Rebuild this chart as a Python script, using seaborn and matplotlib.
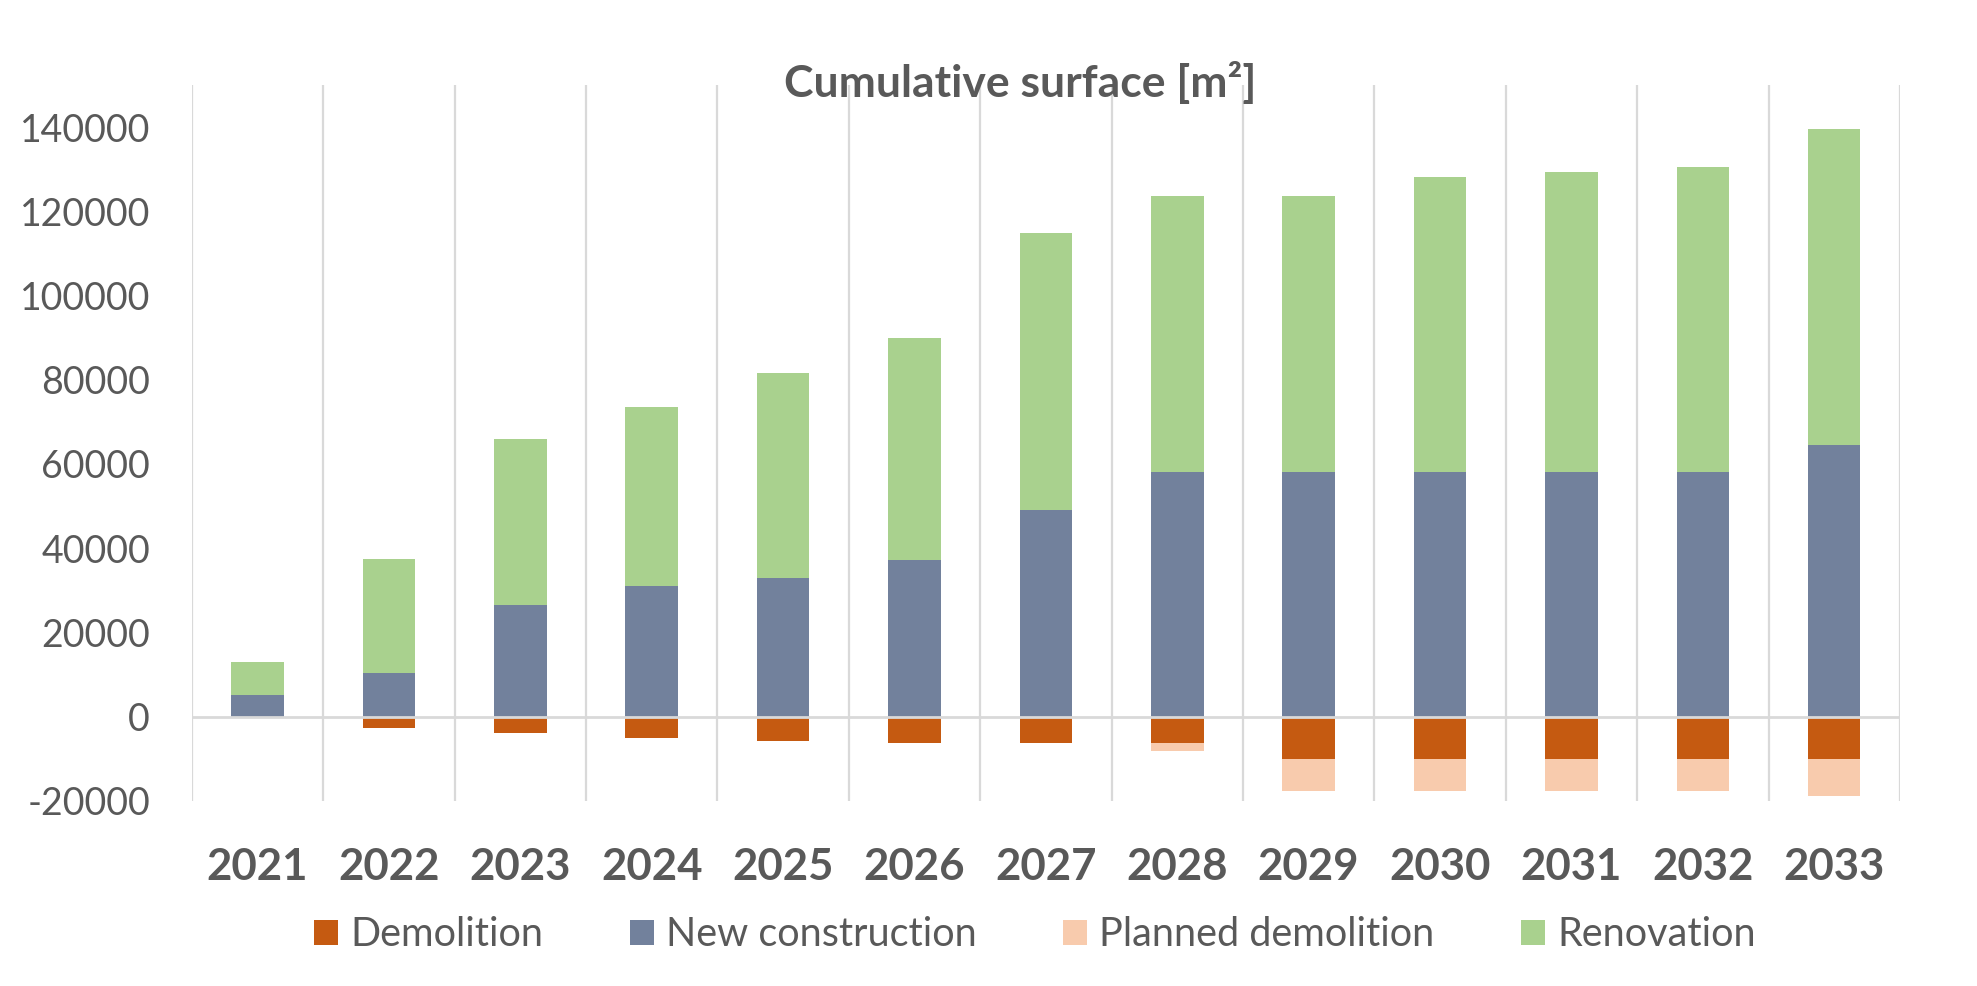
import numpy as np
import pandas as pd
import matplotlib
matplotlib.use("Agg")
import matplotlib.pyplot as plt
import seaborn as sns
from matplotlib.patches import Patch

# Cumulative floor surface per year [m²]
years = ["2021", "2022", "2023", "2024", "2025", "2026", "2027",
         "2028", "2029", "2030", "2031", "2032", "2033"]
new_construction = [5000, 10300, 26600, 31100, 33000, 37200, 49100,
                    58000, 58000, 58000, 58000, 58000, 64500]
renovation = [7900, 27000, 39400, 42400, 48600, 52800, 65700,
              65600, 65600, 70200, 71300, 72500, 75000]
demolition = [0, -2700, -3900, -5100, -5800, -6300, -6300,
              -6300, -10000, -10000, -10000, -10000, -10000]
planned_demolition = [0, 0, 0, 0, 0, 0, 0,
                      -1800, -7700, -7700, -7700, -7700, -8800]

y_ticks = list(range(-20000, 140001, 20000))

colors = {
    "Demolition": "#C55A11",
    "New construction": "#72819C",
    "Planned demolition": "#F8CBAD",
    "Renovation": "#A9D18E",
}
text_color = "#595959"
grid_color = "#D9D9D9"

sns.set_theme(style="white")
plt.rcParams["font.family"] = ["Lato", "DejaVu Sans"]

fig = plt.figure(figsize=(19.77, 9.86), dpi=100)
ax = fig.add_axes([0.097, 0.1879, 0.864, 0.7259])

df = pd.DataFrame({
    "year": years,
    "New construction": new_construction,
    "Renovation": renovation,
    "Demolition": demolition,
    "Planned demolition": planned_demolition,
})

bar_kws = dict(order=years, width=0.4, saturation=1, linewidth=0, ax=ax, zorder=2)

# positive stack: new construction, then renovation on top
sns.barplot(data=df, x="year", y="New construction",
            color=colors["New construction"], **bar_kws)
sns.barplot(data=df, x="year", y="Renovation", bottom=df["New construction"],
            color=colors["Renovation"], **bar_kws)
# negative stack: demolition, then planned demolition below it
sns.barplot(data=df, x="year", y="Demolition",
            color=colors["Demolition"], **bar_kws)
sns.barplot(data=df, x="year", y="Planned demolition", bottom=df["Demolition"],
            color=colors["Planned demolition"], **bar_kws)

ax.set_xlim(-0.5, len(years) - 0.5)
ax.set_ylim(-20000, 150000)
ax.set_yticks(y_ticks)
ax.set_yticklabels([str(v) for v in y_ticks])

# category boundaries as vertical gridlines
ax.set_xticks(np.arange(-0.5, len(years)), minor=True)
ax.grid(False)
ax.grid(axis="x", which="minor", color=grid_color, linewidth=1.6, zorder=0)
ax.set_axisbelow(True)
ax.axhline(0, color=grid_color, linewidth=2.0, zorder=3)

for s in ax.spines.values():
    s.set_visible(False)

ax.set_xlabel("")
ax.set_ylabel("")
ax.tick_params(axis="y", which="both", length=0, pad=30, labelsize=27,
               labelcolor=text_color)
ax.tick_params(axis="x", which="both", length=0, pad=33, labelsize=31.5,
               labelcolor=text_color)
for lbl in ax.get_xticklabels():
    lbl.set_fontweight("bold")

fig.text(1020 / 1977, 1 - 83 / 986, "Cumulative surface [m²]",
         ha="center", va="center", fontsize=32, fontweight="bold",
         color=text_color)

handles = [Patch(facecolor=colors[k], edgecolor="none", label=k)
           for k in ["Demolition", "New construction",
                     "Planned demolition", "Renovation"]]
leg = fig.legend(handles=handles, loc="center", ncol=4,
                 bbox_to_anchor=(1035 / 1977, 1 - 935 / 986),
                 frameon=False, fontsize=28.5, handlelength=0.6,
                 handleheight=0.6, handletextpad=0.3, columnspacing=2.2)
for t in leg.get_texts():
    t.set_color(text_color)

fig.savefig("out.png", dpi=100, facecolor="white")
